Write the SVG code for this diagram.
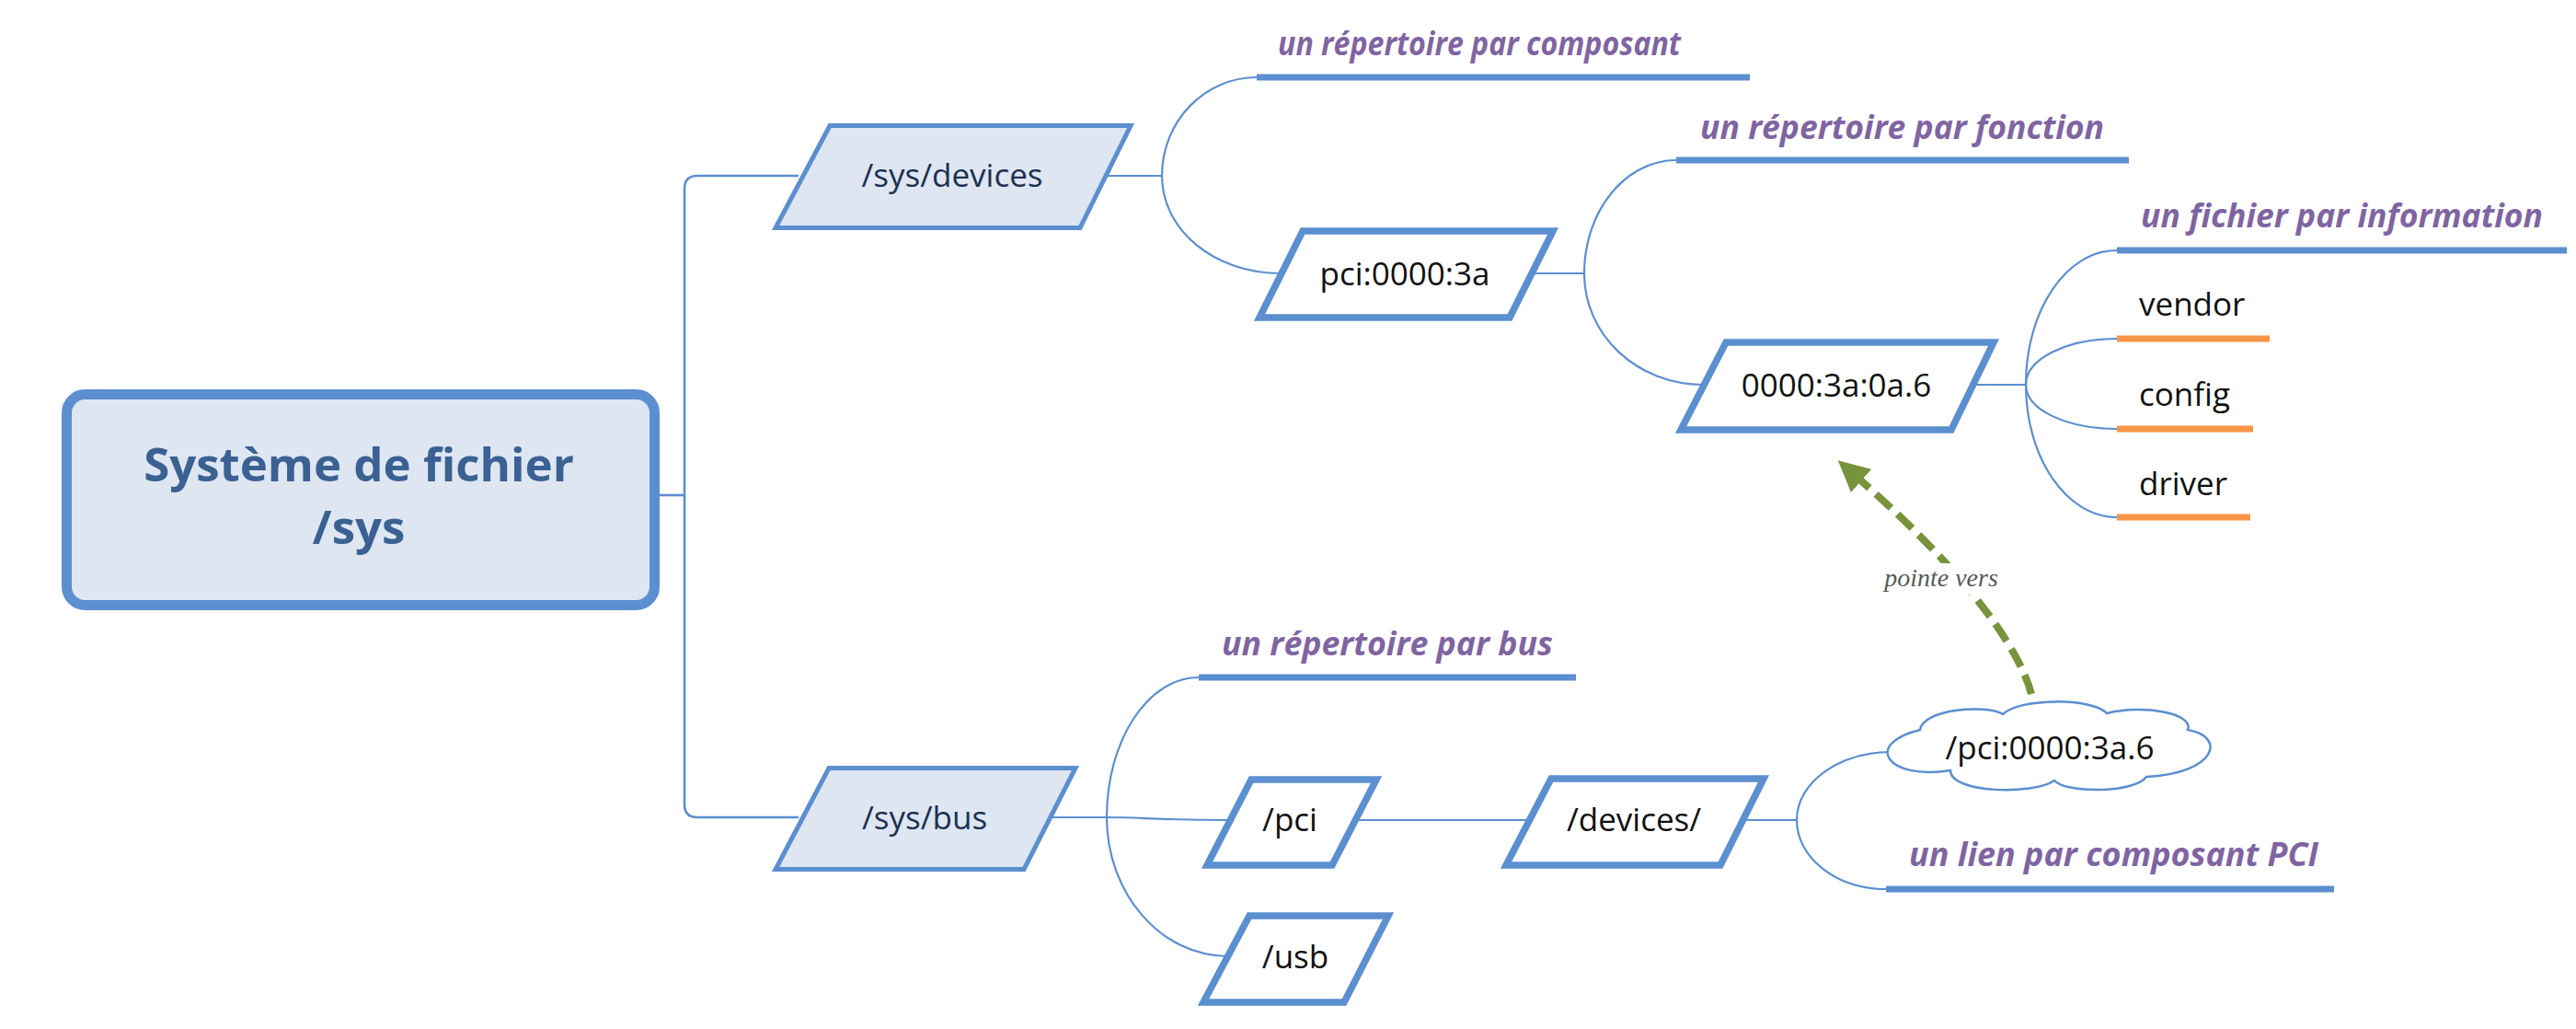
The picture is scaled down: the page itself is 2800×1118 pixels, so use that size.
<svg xmlns="http://www.w3.org/2000/svg" width="2800" height="1118" viewBox="0 0 2800 1118">
<defs>
<style>
.conn{fill:none;stroke:#5b8fd0;stroke-width:2.2}
.trunk{fill:none;stroke:#5b8fd0;stroke-width:2.6}
.bar{stroke:#5b8fd0;stroke-width:7}
.obar{stroke:#f79646;stroke-width:7}
.lvl1{fill:#dee6f2;stroke:#5b8fd0;stroke-width:5;stroke-linejoin:miter}
.lvl2{fill:#ffffff;stroke:#5b8fd0;stroke-width:7.5;stroke-linejoin:miter}
.t1{font-family:"Open Sans","Liberation Sans",sans-serif;font-size:35px;fill:#1c3150;text-anchor:middle}
.t2{font-family:"Open Sans","Liberation Sans",sans-serif;font-size:35px;fill:#111111;text-anchor:middle}
.leaf{font-family:"Open Sans","Liberation Sans",sans-serif;font-size:35px;fill:#111111}
.note{font-family:"Open Sans","Liberation Sans",sans-serif;font-size:35px;font-weight:700;font-style:italic;fill:#8064a2}
.root{font-family:"Open Sans","Liberation Sans",sans-serif;font-size:51px;font-weight:700;fill:#3a6192;text-anchor:middle}
.lbl{font-family:"Liberation Serif","DejaVu Serif",serif;font-size:28px;font-style:italic;fill:#595959;text-anchor:middle}
</style>
<marker id="ah" viewBox="0 0 10 10" refX="2" refY="5" markerWidth="4.2" markerHeight="4.2" orient="auto" markerUnits="strokeWidth">
<path d="M0,0 L10,5 L0,10 Z" fill="#77933c"/>
</marker>
</defs>
<rect width="2800" height="1118" fill="#ffffff"/>

<g id="connectors">
<path class="trunk" d="M714,538 H744"/>
<path class="trunk" d="M868,191 H758 Q744,191 744,205 V874 Q744,888 758,888 H868"/>
<path class="conn" d="M1202,191 H1263"/>
<path class="conn" d="M1263,191 C1263,132 1309,84 1366,84"/>
<path class="conn" d="M1263,191 C1263,250 1320,297 1392,297"/>
<path class="conn" d="M1665,297 H1722"/>
<path class="conn" d="M1722,297 C1722,229 1767,174 1822,174"/>
<path class="conn" d="M1722,297 C1722,364 1779,418 1852,418"/>
<path class="conn" d="M2143,418 H2202"/>
<path class="conn" d="M2202,418 C2202,337 2246,272 2301,272"/>
<path class="conn" d="M2202,418 C2202,390 2246,368 2301,368"/>
<path class="conn" d="M2202,418 C2202,445 2246,466 2301,466"/>
<path class="conn" d="M2202,418 C2202,497 2246,562 2301,562"/>
<path class="conn" d="M1142,888 H1203"/>
<path class="conn" d="M1203,888 C1203,804 1248,736 1303,736"/>
<path class="conn" d="M1203,888 C1240,888 1260,891 1337,891"/>
<path class="conn" d="M1203,888 C1203,971 1262,1039 1335,1039"/>
<path class="conn" d="M1473,891 H1663"/>
<path class="conn" d="M1895,891 H1953"/>
<path class="conn" d="M1953,891 C1953,850 1999,817 2056,817"/>
<path class="conn" d="M1953,891 C1953,932 1996,966 2050,966"/>
<g id="link">
<path d="M2208,754 C2195,705 2140,625 2018,518" fill="none" stroke="#77933c" stroke-width="8" stroke-dasharray="22 10" marker-end="url(#ah)"/>
<rect x="2040" y="612" width="140" height="34" fill="#ffffff"/>
<text class="lbl" x="2110" y="637">pointe vers</text>
</g>
</g>

<g id="root">
<rect x="72.5" y="428.5" width="639" height="229" rx="20" fill="#dee6f2" stroke="#5b8fd0" stroke-width="11"/>
<text class="root" x="390" y="523">Système de fichier</text>
<text class="root" x="390" y="591">/sys</text>
</g>

<g id="sys-devices">
<polygon class="lvl1" points="902,136.5 1229,136.5 1174,247.5 843,247.5"/>
<text class="t1" x="1035" y="203">/sys/devices</text>
</g>
<g id="note-composant">
<text class="note" x="1389" y="60" textLength="438" lengthAdjust="spacingAndGlyphs">un répertoire par composant</text>
<line class="bar" x1="1366" y1="84" x2="1902" y2="84"/>
</g>
<g id="pci-3a">
<polygon class="lvl2" points="1416,251 1688,251 1641,345 1369,345"/>
<text class="t2" x="1527" y="310">pci:0000:3a</text>
</g>
<g id="note-fonction">
<text class="note" x="1848" y="151" textLength="439" lengthAdjust="spacingAndGlyphs">un répertoire par fonction</text>
<line class="bar" x1="1822" y1="174" x2="2314" y2="174"/>
</g>
<g id="func-0a6">
<polygon class="lvl2" points="1876,372 2167,372 2121,467 1827,467"/>
<text class="t2" x="1996" y="431">0000:3a:0a.6</text>
</g>
<g id="note-information">
<text class="note" x="2327" y="247" textLength="437" lengthAdjust="spacingAndGlyphs">un fichier par information</text>
<line class="bar" x1="2301" y1="272" x2="2790" y2="272"/>
</g>
<g id="vendor">
<text class="leaf" x="2325" y="343">vendor</text>
<line class="obar" x1="2301" y1="368" x2="2467" y2="368"/>
</g>
<g id="config">
<text class="leaf" x="2325" y="441">config</text>
<line class="obar" x1="2301" y1="466" x2="2449" y2="466"/>
</g>
<g id="driver">
<text class="leaf" x="2325" y="538">driver</text>
<line class="obar" x1="2301" y1="562" x2="2446" y2="562"/>
</g>

<g id="sys-bus">
<polygon class="lvl1" points="901,834.5 1169,834.5 1113,944.5 843,944.5"/>
<text class="t1" x="1005" y="901">/sys/bus</text>
</g>
<g id="note-bus">
<text class="note" x="1328" y="712" textLength="360" lengthAdjust="spacingAndGlyphs">un répertoire par bus</text>
<line class="bar" x1="1303" y1="736" x2="1713" y2="736"/>
</g>
<g id="pci">
<polygon class="lvl2" points="1360,847 1496,847 1448,940 1312,940"/>
<text class="t2" x="1402" y="903">/pci</text>
</g>
<g id="usb">
<polygon class="lvl2" points="1358,995 1509,995 1461,1089 1308,1089"/>
<text class="t2" x="1408" y="1052">/usb</text>
</g>
<g id="devices">
<polygon class="lvl2" points="1686,846 1917,846 1870,940 1637,940"/>
<text class="t2" x="1776" y="903">/devices/</text>
</g>
<g id="cloud-link">
<path d="M2120,837 C2050,848 2025,808 2087,793 C2090,770 2160,765 2177,776 C2195,758 2275,758 2290,775 C2330,765 2385,775 2378,793 C2420,800 2410,840 2333,844 C2320,862 2245,862 2233,848 C2210,864 2120,862 2120,837 Z" fill="#ffffff" stroke="#5b8fd0" stroke-width="2.5"/>
<text class="t2" x="2228" y="825">/pci:0000:3a.6</text>
</g>
<g id="note-lien">
<text class="note" x="2075" y="941" textLength="445" lengthAdjust="spacingAndGlyphs">un lien par composant PCI</text>
<line class="bar" x1="2050" y1="966" x2="2537" y2="966"/>
</g>
</svg>
